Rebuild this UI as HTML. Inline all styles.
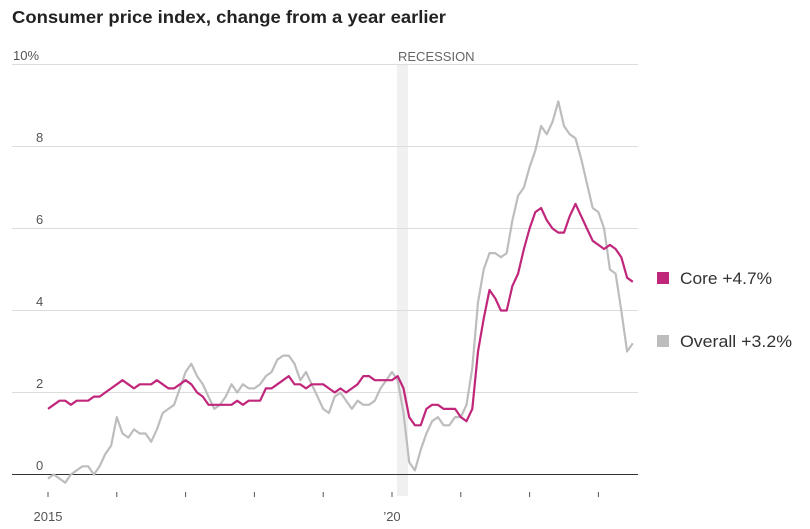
<!DOCTYPE html>
<html><head><meta charset="utf-8"><style>
html,body{margin:0;padding:0;background:#fff;}
svg{display:block;font-family:"Liberation Sans",sans-serif;}
</style></head><body>
<svg id="c" width="810" height="529" viewBox="0 0 810 529" xmlns="http://www.w3.org/2000/svg">
<text x="12" y="23" font-size="17.5" font-weight="bold" fill="#222" textLength="434" lengthAdjust="spacingAndGlyphs">Consumer price index, change from a year earlier</text>
<rect x="397" y="64" width="11" height="432" fill="#f0f0f0"/>
<text x="398" y="61" font-size="13" fill="#666">RECESSION</text>
<g stroke="#dcdcdc" stroke-width="1">
<line x1="12" x2="638" y1="64.5" y2="64.5"/>
<line x1="12" x2="638" y1="146.5" y2="146.5"/>
<line x1="12" x2="638" y1="228.5" y2="228.5"/>
<line x1="12" x2="638" y1="310.5" y2="310.5"/>
<line x1="12" x2="638" y1="392.5" y2="392.5"/>
</g>
<line x1="12" x2="638" y1="474.5" y2="474.5" stroke="#333" stroke-width="1"/>
<g font-size="13" fill="#555">
<text x="13" y="60">10%</text>
<text x="36" y="142">8</text>
<text x="36" y="224">6</text>
<text x="36" y="306">4</text>
<text x="36" y="388">2</text>
<text x="36" y="470">0</text>
<text x="48" y="521" text-anchor="middle">2015</text>
<text x="392" y="521" text-anchor="middle">’20</text>
</g>
<g id="ticks" stroke="#555" stroke-width="1"></g>
<polyline id="ov" fill="none" stroke="#bdbdbd" stroke-width="2.2" stroke-linejoin="round"/>
<polyline id="co" fill="none" stroke="#c0267a" stroke-width="2.2" stroke-linejoin="round"/>
<rect x="657" y="272" width="12" height="12" fill="#c0267a"/>
<text x="680" y="284" font-size="16.5" fill="#333" textLength="92" lengthAdjust="spacingAndGlyphs">Core +4.7%</text>
<rect x="657" y="335" width="12" height="12" fill="#bdbdbd"/>
<text x="680" y="347" font-size="16.5" fill="#333" textLength="112" lengthAdjust="spacingAndGlyphs">Overall +3.2%</text>
</svg>
<script>
var core=[1.6,1.7,1.8,1.8,1.7,1.8,1.8,1.8,1.9,1.9,2.0,2.1,
2.2,2.3,2.2,2.1,2.2,2.2,2.2,2.3,2.2,2.1,2.1,2.2,
2.3,2.2,2.0,1.9,1.7,1.7,1.7,1.7,1.7,1.8,1.7,1.8,
1.8,1.8,2.1,2.1,2.2,2.3,2.4,2.2,2.2,2.1,2.2,2.2,
2.2,2.1,2.0,2.1,2.0,2.1,2.2,2.4,2.4,2.3,2.3,2.3,
2.3,2.4,2.1,1.4,1.2,1.2,1.6,1.7,1.7,1.6,1.6,1.6,
1.4,1.3,1.6,3.0,3.8,4.5,4.3,4.0,4.0,4.6,4.9,5.5,
6.0,6.4,6.5,6.2,6.0,5.9,5.9,6.3,6.6,6.3,6.0,5.7,
5.6,5.5,5.6,5.5,5.3,4.8,4.7];
var ov=[-0.1,0.0,-0.1,-0.2,0.0,0.1,0.2,0.2,0.0,0.2,0.5,0.7,
1.4,1.0,0.9,1.1,1.0,1.0,0.8,1.1,1.5,1.6,1.7,2.1,
2.5,2.7,2.4,2.2,1.9,1.6,1.7,1.9,2.2,2.0,2.2,2.1,
2.1,2.2,2.4,2.5,2.8,2.9,2.9,2.7,2.3,2.5,2.2,1.9,
1.6,1.5,1.9,2.0,1.8,1.6,1.8,1.7,1.7,1.8,2.1,2.3,
2.5,2.3,1.5,0.3,0.1,0.6,1.0,1.3,1.4,1.2,1.2,1.4,
1.4,1.7,2.6,4.2,5.0,5.4,5.4,5.3,5.4,6.2,6.8,7.0,
7.5,7.9,8.5,8.3,8.6,9.1,8.5,8.3,8.2,7.7,7.1,6.5,
6.4,6.0,5.0,4.9,4.0,3.0,3.2];
function pts(a){return a.map(function(v,i){return (48+i*68.8/12).toFixed(1)+","+(474.5-v*41).toFixed(1)}).join(" ");}
document.getElementById("co").setAttribute("points",pts(core));
document.getElementById("ov").setAttribute("points",pts(ov));
var t="";for(var k=0;k<9;k++){var x=48+k*68.8;t+='<line x1="'+x+'" x2="'+x+'" y1="492" y2="497"/>';}
document.getElementById("ticks").innerHTML=t;
</script>
</body></html>
